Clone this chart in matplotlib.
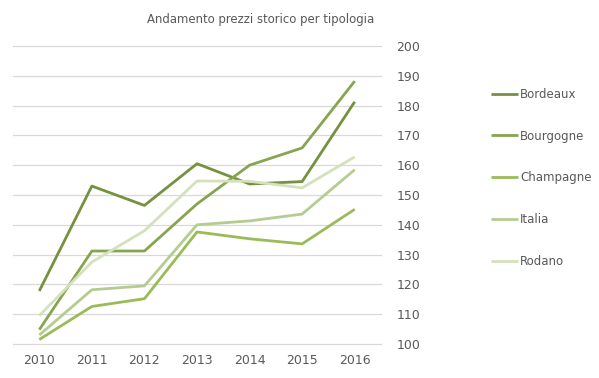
import matplotlib
matplotlib.use("Agg")
import matplotlib.pyplot as plt

years = ["2010", "2011", "2012", "2013", "2014", "2015", "2016"]
bordeaux = [117.8, 153.0, 146.5, 160.5, 153.7, 154.5, 181.3]
bourgogne = [104.8, 131.2, 131.2, 147.0, 160.0, 165.8, 188.2]
champagne = [101.5, 112.6, 115.2, 137.6, 135.3, 133.6, 145.2]
italia = [103.0, 118.2, 119.5, 140.0, 141.3, 143.6, 158.5]
rodano = [109.5, 127.5, 138.0, 154.7, 154.6, 152.4, 162.8]
series_names = ["Bordeaux", "Bourgogne", "Champagne", "Italia", "Rodano"]
series = [bordeaux, bourgogne, champagne, italia, rodano]
colors = ["#76913F", "#87A44F", "#9BBB59", "#B5CC90", "#D3E1BC"]
yticks = [100, 110, 120, 130, 140, 150, 160, 170, 180, 190, 200]

plt.rcParams['font.family'] = ['DejaVu Sans']
fig = plt.figure(figsize=(5.99, 3.78), dpi=100)
W, H = 599, 378
ax = fig.add_axes([13 / W, (H - 344) / H, (381 - 13) / W, (344 - 46) / H])

x = list(range(len(years)))
for name, vals, c in zip(series_names, series, colors):
    ax.plot(x, vals, color=c, lw=2.0, label=name, solid_capstyle='butt')

ax.set_xlim(-0.5, len(years) - 0.5)
ax.set_ylim(100, 200)
ax.set_yticks(yticks)
ax.set_xticks(x)
ax.set_xticklabels(years)
ax.yaxis.tick_right()
ax.grid(axis='y', color='#D9D9D9', lw=0.9)
for gl in ax.get_ygridlines():
    gl.set_clip_on(False)
ax.set_axisbelow(True)
for s in ax.spines.values():
    s.set_visible(False)
ax.tick_params(axis='both', length=0, labelsize=9, colors='#595959')
ax.tick_params(axis='y', pad=11)
ax.tick_params(axis='x', pad=7)

fig.text(261 / W, 1 - 20 / H, "Andamento prezzi storico per tipologia",
         ha='center', va='center', fontsize=9.4, color='#595959',
         family=['Liberation Sans Narrow', 'DejaVu Sans'], fontstretch='condensed')

leg = fig.legend(loc='center left', bbox_to_anchor=(480 / W, 1 - 178 / H),
                 frameon=False, fontsize=8.5, handlelength=2.3, handletextpad=0.2,
                 labelspacing=2.45, labelcolor='#595959')
fig.savefig("out.png", dpi=100)
